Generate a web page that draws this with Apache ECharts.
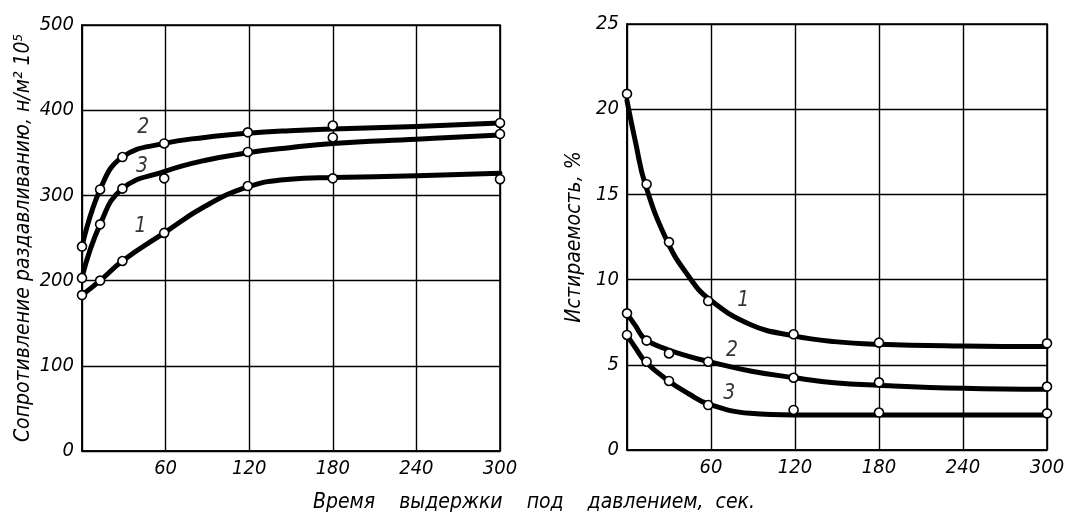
<!DOCTYPE html>
<html>
<head>
<meta charset="utf-8">
<script src="https://cdn.jsdelivr.net/npm/echarts@6/dist/echarts.min.js"></script>
<style>html,body{margin:0;padding:0;background:#fff;}#c{width:1068px;height:520px;}</style>
</head>
<body>
<div id="c"></div>
<script>
// ---- Left chart: crushing resistance (н/м²·10⁵) vs holding time (сек.) ----
// measured points (circles)
const leftPointTimes = [0, 13, 29, 59, 119, 180, 300];
const strengthPts1 = [183, 200, 223, 256, 311, 320, 319];
const strengthPts2 = [240, 307, 345, 361, 374, 382, 385];
const strengthPts3 = [203, 266, 308, 320, 351, 368, 372];
// drawn curves
const leftCurveTimes = [0, 13, 29, 59, 88, 119, 149, 180, 240, 300];
const strengthCurve1 = [183, 200, 223, 256, 287, 310, 319, 321, 323, 326];
const strengthCurve2 = [240, 307, 345, 361, 368, 373, 376, 378, 381, 385];
const strengthCurve3 = [204, 266, 308, 328, 341, 350, 356, 361, 366, 371];

// ---- Right chart: abrasion (%) vs holding time (сек.) ----
const rightPointTimes = [0, 14, 30, 58, 119, 180, 300];
const abrasionPts1 = [20.9, 15.6, 12.2, 8.74, 6.79, 6.3, 6.26];
const abrasionPts2 = [8.02, 6.42, 5.67, 5.18, 4.24, 3.97, 3.72];
const abrasionPts3 = [6.75, 5.18, 4.05, 2.64, 2.35, 2.2, 2.15];
const rightCurveTimes = [0, 6, 13, 29, 44, 58, 88, 119, 148, 180, 240, 300];
const abrasionCurve1 = [20.5, 18.1, 15.6, 12.2, 10.2, 8.9, 7.37, 6.7, 6.36, 6.2, 6.1, 6.07];
const abrasionCurve2 = [8.0, 7.3, 6.5, 5.9, 5.5, 5.2, 4.64, 4.25, 3.95, 3.8, 3.62, 3.56];
const abrasionCurve3 = [6.75, 6.0, 5.2, 4.1, 3.3, 2.7, 2.15, 2.05, 2.05, 2.05, 2.05, 2.05];

// Curve number labels [time, value, text]
const leftCurveLabels = [[44, 380, '2'], [43, 334, '3'], [42, 263, '1']];
const rightCurveLabels = [[83, 8.8, '1'], [75, 5.85, '2'], [73, 3.3, '3']];
// Texts
const leftYName = 'Сопротивление раздавливанию, н/м² 10⁵';
const rightYName = 'Истираемость, %';
const xName = 'Время    выдержки    под    давлением,  сек.';

const FONT = "'Liberation Sans Narrow', 'DejaVu Sans Condensed', sans-serif";
const zip = (xs, ys) => xs.map((x, i) => [x, ys[i]]);

function curveSeries(idx, xs, ys) {
  return {
    type: 'line', xAxisIndex: idx, yAxisIndex: idx,
    data: zip(xs, ys), smooth: 0.45, showSymbol: false, symbol: 'none',
    lineStyle: { color: '#000', width: 5, cap: 'round', join: 'round' },
    z: 3, animation: false, silent: true
  };
}
function pointSeries(idx, xs, ys) {
  return {
    type: 'scatter', xAxisIndex: idx, yAxisIndex: idx,
    data: zip(xs, ys), symbol: 'circle', symbolSize: 9,
    itemStyle: { color: '#fff', borderColor: '#000', borderWidth: 1.6, opacity: 1 },
    z: 4, animation: false, silent: true
  };
}
function labelSeries(idx, arr) {
  return {
    type: 'scatter', xAxisIndex: idx, yAxisIndex: idx, symbolSize: 0,
    data: arr.map(a => ({ value: [a[0], a[1]], name: a[2] })),
    label: { show: true, position: 'inside', formatter: p => p.name,
             fontFamily: FONT, fontStyle: 'italic', fontSize: 21, color: '#000' },
    silent: true, animation: false, z: 5
  };
}
const axisX = (idx) => ({
  gridIndex: idx, type: 'value', min: 0, max: 300, interval: 60,
  axisLine: { show: true, lineStyle: { color: '#000', width: 1.6 } },
  axisTick: { show: false },
  splitLine: { show: true, lineStyle: { color: '#000', width: 1.4 } },
  axisLabel: { color: '#000', fontFamily: FONT, fontStyle: 'italic', fontSize: 20, margin: 8,
               formatter: v => v === 0 ? '' : String(v) }
});
const axisY = (idx, max, interval, name, gap) => ({
  gridIndex: idx, type: 'value', min: 0, max: max, interval: interval,
  axisLine: { show: true, lineStyle: { color: '#000', width: 1.6 } },
  axisTick: { show: false },
  splitLine: { show: true, lineStyle: { color: '#000', width: 1.4 } },
  axisLabel: { color: '#000', fontFamily: FONT, fontStyle: 'italic', fontSize: 20, margin: 8 },
  name: name, nameLocation: 'middle', nameGap: gap, nameRotate: 90,
  nameTextStyle: { color: '#000', fontFamily: FONT, fontStyle: 'italic', fontSize: 21 }
});

const chart = echarts.init(document.getElementById('c'), null, { renderer: 'canvas' });
chart.setOption({
  backgroundColor: '#fff',
  animation: false,
  title: { text: xName, left: 'center', top: 487,
           textStyle: { color: '#000', fontFamily: FONT, fontStyle: 'italic', fontWeight: 'normal', fontSize: 21 } },
  grid: [
    { left: 82, top: 25, width: 418, height: 426, show: true, borderColor: '#000', borderWidth: 1.6 },
    { left: 627, top: 24, width: 420, height: 426, show: true, borderColor: '#000', borderWidth: 1.6 }
  ],
  xAxis: [axisX(0), axisX(1)],
  yAxis: [axisY(0, 500, 100, leftYName, 48), axisY(1, 25, 5, rightYName, 42)],
  series: [
    curveSeries(0, leftCurveTimes, strengthCurve1),
    curveSeries(0, leftCurveTimes, strengthCurve2),
    curveSeries(0, leftCurveTimes, strengthCurve3),
    pointSeries(0, leftPointTimes, strengthPts1),
    pointSeries(0, leftPointTimes, strengthPts2),
    pointSeries(0, leftPointTimes, strengthPts3),
    curveSeries(1, rightCurveTimes, abrasionCurve1),
    curveSeries(1, rightCurveTimes, abrasionCurve2),
    curveSeries(1, rightCurveTimes, abrasionCurve3),
    pointSeries(1, rightPointTimes, abrasionPts1),
    pointSeries(1, rightPointTimes, abrasionPts2),
    pointSeries(1, rightPointTimes, abrasionPts3),
    labelSeries(0, leftCurveLabels),
    labelSeries(1, rightCurveLabels)
  ]
});
</script>
</body>
</html>
